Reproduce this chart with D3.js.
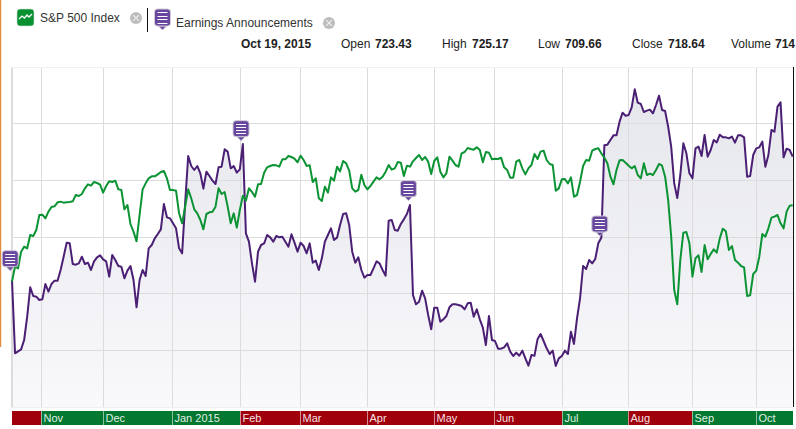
<!DOCTYPE html>
<html><head><meta charset="utf-8">
<script src="https://cdn.jsdelivr.net/npm/d3@7"></script>
<style>html,body{margin:0;padding:0;background:#fff;overflow:hidden}svg{display:block;font-family:"Liberation Sans",Arial,sans-serif}</style>
</head><body><div id="chart"></div>
<script>
// Relative levels (the chart prints no y labels)
const earnings = [340,120,126,132,160,230,318,292,290,280,
282,328,305,328,338,338,370,410,452,450,
388,386,390,410,388,392,370,396,408,414,
402,396,350,415,400,382,380,345,368,382,
340,258,340,370,352,435,445,465,478,492,
568,528,525,510,495,435,420,570,712,682,
670,682,660,614,665,652,638,628,678,680,
732,725,675,682,662,672,748,480,455,390,
335,425,445,450,
475,468,455,472,468,470,455,440,477,452,
425,452,442,420,450,392,398,370,405,455,
475,495,460,467,505,538,540,505,425,392,
408,370,347,355,355,375,396,390,370,353,
518,520,490,488,508,522,538,565,295,267,
275,308,285,235,192,257,257,215,222,232,
258,267,267,265,262,252,270,272,230,252,
222,197,145,232,160,157,134,134,138,150,
125,112,122,113,128,105,
83,115,113,162,178,157,135,118,128,82,
105,112,128,118,185,148,225,285,382,373,
400,390,403,450,467,744,746,760,774,774,
815,842,833,835,858,912,872,868,844,848,
851,840,865,893,850,847,800,740,630,586,
655,750,720,660,645,735,740,712,775,710,
730,760,753,776,768,768,765,770,752,774,
774,768,650,652,715,735,738,755,680,715,
790,785,860,873,708,734,730,710];
const sp500 = [335,380,375,425,440,435,475,472,490,535,
536,525,545,559,561,573,575,572,573,574,
576,595,592,598,615,627,623,634,631,626,
602,622,636,634,638,612,610,552,565,508,
485,456,535,612,630,645,651,651,657,664,
667,645,610,610,608,540,510,560,612,585,
552,540,520,492,538,543,545,560,615,598,
604,560,510,540,497,550,593,578,615,604,
590,627,628,662,
678,682,685,684,680,702,702,712,709,704,
693,713,700,682,684,634,645,585,577,620,
602,648,638,680,666,697,690,668,615,605,
610,656,625,612,622,635,648,642,650,665,
685,671,675,694,692,652,683,680,696,706,
715,700,709,695,658,697,708,665,648,660,
710,698,685,680,720,724,736,733,731,738,
730,693,724,722,702,704,703,707,678,670,
647,647,695,700,675,657,
675,685,718,703,725,728,700,688,685,608,
615,642,643,630,648,590,595,635,682,700,
698,728,733,735,720,707,690,650,627,670,
699,700,692,683,675,682,655,645,690,655,
659,655,670,688,683,650,580,470,310,267,
400,482,484,450,350,405,414,364,445,402,
418,432,422,465,494,486,430,442,400,392,
382,378,292,294,358,368,410,478,470,495,
527,530,535,510,495,545,563,564];
const monthNames = ["","Nov","Dec","Jan 2015","Feb","Mar","Apr","May","Jun","Jul","Aug","Sep","Oct"];
const monthStarts = [0,9.7,29.8,52.8,74.9,94.8,116.9,138.8,158.8,180.9,202.8,223.8,245];
const monthUp = [false,true,true,true,false,false,false,false,false,true,false,true,true];
const levelTicks = [129,300,468,640,810];
const eventDays = [-0.6,75.4,130.5,193.5];
const eventLevels = [368,758,578,472];
const quoteLabels = ["Open","High","Low","Close","Volume"];
const quoteValues = ["723.43","725.17","709.66","718.64","714"];
const lastDay = earnings.length - 1;

const W = 796, H = 429;
const svg = d3.select("#chart").append("svg").attr("width",W).attr("height",H);
const x = d3.scaleLinear().domain([0,lastDay]).range([12,792.7]);
const y = d3.scaleLinear().domain([-41,979]).range([407,67]);

const defs = svg.append("defs");
const grad = defs.append("linearGradient").attr("id","fade").attr("gradientUnits","userSpaceOnUse")
  .attr("x1",0).attr("x2",0).attr("y1",y(900)).attr("y2",407);
grad.append("stop").attr("offset",0).attr("stop-color","#e6e7ec");
grad.append("stop").attr("offset",1).attr("stop-color","#f9f9fc");

// orange edge and plot frame
svg.append("rect").attr("x",0).attr("y",0).attr("width",1.2).attr("height",347).attr("fill","#e08a3c");

// area
svg.append("path").datum(earnings)
  .attr("d",d3.area().x((d,i)=>x(i)).y0(407).y1(d=>y(d))).attr("fill","url(#fade)");

// grid
const gridColor = "#dcdcde";
const gx = svg.append("g").attr("transform","translate(0,407)")
  .call(d3.axisBottom(x).tickValues(monthStarts).tickSize(-340).tickFormat(""));
const gy = svg.append("g").attr("transform","translate(11.5,0)")
  .call(d3.axisRight(y).tickValues(levelTicks).tickSize(781.5).tickFormat(""));
[gx,gy].forEach(g=>{g.select(".domain").remove();g.selectAll("line").attr("stroke",gridColor).attr("stroke-width",1);});
gx.selectAll(".tick").attr("transform",d=>`translate(${Math.round(x(d))+0.5},0)`);
gy.selectAll(".tick").attr("transform",d=>`translate(0,${Math.round(y(d))+0.5})`);
svg.append("line").attr("x1",11.5).attr("x2",11.5).attr("y1",67).attr("y2",407).attr("stroke",gridColor);
svg.append("line").attr("x1",11).attr("x2",793).attr("y1",67.5).attr("y2",67.5).attr("stroke","#f0f0f0");
svg.append("line").attr("x1",11).attr("x2",793).attr("y1",407.5).attr("y2",407.5).attr("stroke","#f0f0f0");
svg.append("line").attr("x1",793.5).attr("x2",793.5).attr("y1",67).attr("y2",407).attr("stroke","#111");

// lines
const line = d3.line().x((d,i)=>x(i)).y(d=>y(d));
svg.append("path").datum(earnings).attr("d",line).attr("fill","none").attr("stroke","#4a1f74").attr("stroke-width",2).attr("stroke-linejoin","round");
svg.append("path").datum(sp500).attr("d",line).attr("fill","none").attr("stroke","#0b9334").attr("stroke-width",2).attr("stroke-linejoin","round");

// month band
const bandEnd = (i)=> i+1<monthStarts.length ? Math.round(x(monthStarts[i+1])) : 793;
const band = svg.append("g");
monthStarts.forEach((m,i)=>{
  const x0 = i===0 ? 12 : Math.round(x(m));
  band.append("rect").attr("x",x0).attr("y",411).attr("width",bandEnd(i)-x0).attr("height",14)
    .attr("fill",monthUp[i]?"#037830":"#a0000c");
  if(i>0) band.append("line").attr("x1",x0+.5).attr("x2",x0+.5).attr("y1",411).attr("y2",425).attr("stroke","#fff").attr("stroke-opacity",.55);
  band.append("text").attr("x",x0+2.5).attr("y",422).attr("font-size",11).attr("fill","#fff").attr("fill-opacity",.9).text(monthNames[i]);
});

// note-shaped marker
function note(g,cx,tip,w,h){
  const top = tip-h-4, left = cx-w/2;
  g.append("path").attr("d",`M${cx-4},${top+h}L${cx},${tip}L${cx+4},${top+h}Z`).attr("fill","#6a479f").attr("stroke","#c9c6d2").attr("stroke-width",.8);
  g.append("rect").attr("x",left).attr("y",top).attr("width",w).attr("height",h).attr("rx",3)
    .attr("fill","#6a479f").attr("stroke","#cfcdd6").attr("stroke-width",1);
  d3.range(4).forEach(k=>{
    const ly = Math.round(top+3+k*(h-5)/3.4)+.5;
    g.append("line").attr("x1",left+3).attr("x2",left+w-3).attr("y1",ly).attr("y2",ly).attr("stroke","#fff").attr("stroke-width",1);
  });
}
eventDays.forEach((d,i)=>note(svg.append("g"),x(d),y(eventLevels[i]),16,16));

// legend
const leg = svg.append("g");
leg.append("rect").attr("x",17).attr("y",9).attr("width",17).attr("height",17).attr("rx",3).attr("fill","#06902f").attr("stroke","#cfe3d4").attr("stroke-width",.6);
leg.append("path").attr("d","M19,19L22,16L24.5,18L27,15L29,17L32,14").attr("fill","none").attr("stroke","#fff").attr("stroke-width",1.3);
leg.append("text").attr("x",40).attr("y",21.5).attr("font-size",12).attr("fill","#333").text("S&P 500 Index");
function closeBtn(cx,cy){
  leg.append("circle").attr("cx",cx).attr("cy",cy).attr("r",6).attr("fill","#bdbdbd");
  leg.append("path").attr("d",`M${cx-2.8},${cy-2.8}L${cx+2.8},${cy+2.8}M${cx+2.8},${cy-2.8}L${cx-2.8},${cy+2.8}`).attr("stroke","#eee").attr("stroke-width",1.2);
}
closeBtn(136,18);
leg.append("line").attr("x1",147.5).attr("x2",147.5).attr("y1",8).attr("y2",32).attr("stroke","#111");
note(leg.append("g"),162.5,30,16,17);
leg.append("text").attr("x",176).attr("y",26.5).attr("font-size",12).attr("fill","#333").text("Earnings Announcements");
closeBtn(329,23);

// quote row
const row = svg.append("g").attr("font-size",12).attr("fill","#222");
row.append("text").attr("x",241).attr("y",48).attr("font-weight","bold").text("Oct 19, 2015");
const labelX = [341,442,538,632,731], valueX = [375,472,565,668,775];
quoteLabels.forEach((t,i)=>{
  row.append("text").attr("x",labelX[i]).attr("y",48).text(t);
  row.append("text").attr("x",valueX[i]).attr("y",48).attr("font-weight","bold").text(quoteValues[i]);
});
</script></body></html>
